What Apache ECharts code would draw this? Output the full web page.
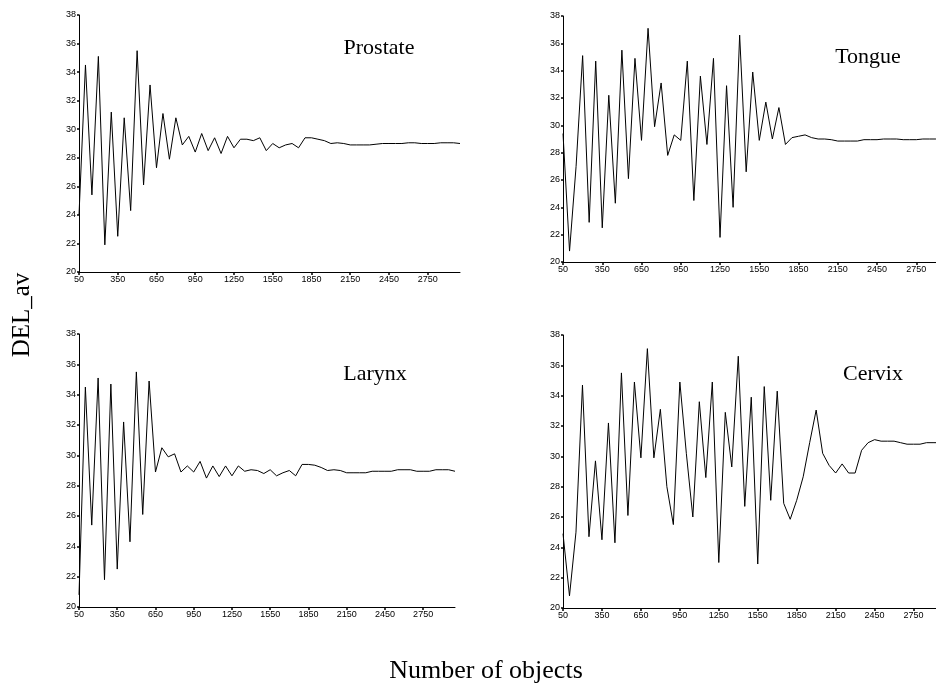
<!DOCTYPE html>
<html>
<head>
<meta charset="utf-8">
<title>DEL_av vs number of objects</title>
<script src="https://cdn.jsdelivr.net/npm/echarts@6/dist/echarts.min.js"></script>
<style>
  html, body { margin: 0; padding: 0; background: #fff; }
  #main { width: 936px; height: 688px; }
</style>
</head>
<body>
<div id="main"></div>
<script>
// number of objects (category labels, every 6th one is printed)
var objects = ['50','100','150','200','250','300','350','400','450','500',
    '550','600','650','700','750','800','850','900','950','1000',
    '1050','1100','1150','1200','1250','1300','1350','1400','1450','1500',
    '1550','1600','1650','1700','1750','1800','1850','1900','1950','2000',
    '2050','2100','2150','2200','2250','2300','2350','2400','2450','2500',
    '2550','2600','2650','2700','2750','2800','2850','2900','2950','3000'];

var prostate = [24.0, 34.5, 25.4, 35.1, 21.9, 31.2, 22.5, 30.8, 24.3, 35.5,
    26.1, 33.1, 27.3, 31.1, 27.9, 30.8, 28.9, 29.5, 28.4, 29.7,
    28.5, 29.4, 28.3, 29.5, 28.7, 29.3, 29.3, 29.2, 29.4, 28.5,
    29.0, 28.7, 28.9, 29.0, 28.7, 29.4, 29.4, 29.3, 29.2, 29.0,
    29.05, 29.0, 28.9, 28.9, 28.9, 28.9, 28.95, 29.0, 29.0, 29.0,
    29.0, 29.05, 29.05, 29.0, 29.0, 29.0, 29.05, 29.05, 29.05, 29.0];

var tongue = [29.4, 20.8, 27.0, 35.1, 22.9, 34.7, 22.5, 32.2, 24.3, 35.5,
    26.1, 34.9, 28.9, 37.1, 29.9, 33.1, 27.8, 29.3, 28.9, 34.7,
    24.5, 33.6, 28.6, 34.9, 21.8, 32.9, 24.0, 36.6, 26.6, 33.9,
    28.9, 31.7, 29.0, 31.3, 28.6, 29.1, 29.2, 29.3, 29.1, 29.0,
    29.0, 28.95, 28.85, 28.85, 28.85, 28.85, 28.95, 28.95, 28.95, 29.0,
    29.0, 29.0, 28.95, 28.95, 28.95, 29.0, 29.0, 29.0, 29.0, 29.0];

var larynx = [20.8, 34.5, 25.4, 35.1, 21.8, 34.7, 22.5, 32.2, 24.3, 35.5,
    26.1, 34.9, 28.9, 30.5, 29.9, 30.1, 28.9, 29.3, 28.9, 29.6,
    28.5, 29.3, 28.6, 29.3, 28.65, 29.3, 28.95, 29.05, 29.0, 28.8,
    29.05, 28.65, 28.85, 29.0, 28.65, 29.4, 29.4, 29.35, 29.2, 29.0,
    29.05, 29.0, 28.85, 28.85, 28.85, 28.85, 28.95, 28.95, 28.95, 28.95,
    29.05, 29.05, 29.05, 28.95, 28.95, 28.95, 29.05, 29.05, 29.05, 28.95];

var cervix = [24.9, 20.8, 25.0, 34.7, 24.7, 29.7, 24.5, 32.2, 24.3, 35.5,
    26.1, 34.9, 29.9, 37.1, 29.9, 33.1, 28.0, 25.5, 34.9, 30.2,
    26.0, 33.6, 28.6, 34.9, 23.0, 32.9, 29.3, 36.6, 26.7, 33.9,
    22.9, 34.6, 27.1, 34.3, 26.9, 25.85, 27.1, 28.65, 30.9, 33.05,
    30.2, 29.4, 28.9, 29.5, 28.9, 28.9, 30.4, 30.9, 31.1, 31.0,
    31.0, 31.0, 30.9, 30.8, 30.8, 30.8, 30.9, 30.9, 30.9, 30.9];

var panelNames = ['Prostate', 'Tongue', 'Larynx', 'Cervix'];

var myChart = echarts.init(document.getElementById('main'), null, {renderer: 'canvas'});

var grids = [
    {left: 79, top: 15, right: 476, bottom: 416},
    {left: 563, top: 16, right: -13, bottom: 426},
    {left: 79, top: 334, right: 481, bottom: 81},
    {left: 563, top: 335, right: -10, bottom: 80}
];
var seriesData = [prostate, tongue, larynx, cervix];
var titlePos = [[379, 48], [868, 57], [375, 374], [873, 374]];

var tickFont = {fontFamily: 'Liberation Sans', fontSize: 9, color: '#000'};

var option = {
    animation: false,
    backgroundColor: '#fff',
    grid: grids.map(function (g) {
        return Object.assign({containLabel: false, outerBoundsMode: 'none'}, g);
    }),
    xAxis: grids.map(function (g, i) {
        return {
            type: 'category',
            gridIndex: i,
            data: objects,
            boundaryGap: false,
            axisLine: {lineStyle: {color: '#000', width: 1}},
            axisTick: {show: true, interval: 5, length: 3, lineStyle: {color: '#000', width: 1.5}},
            axisLabel: Object.assign({interval: 5, margin: 3}, tickFont),
            splitLine: {show: false}
        };
    }),
    yAxis: grids.map(function (g, i) {
        return {
            type: 'value',
            gridIndex: i,
            min: 20,
            max: 38,
            interval: 2,
            axisLine: {show: true, lineStyle: {color: '#000', width: 1}},
            axisTick: {show: true, length: 2, lineStyle: {color: '#000', width: 1.5}},
            axisLabel: Object.assign({margin: 3}, tickFont),
            splitLine: {show: false}
        };
    }),
    series: seriesData.map(function (d, i) {
        return {
            name: panelNames[i],
            type: 'line',
            xAxisIndex: i,
            yAxisIndex: i,
            data: d,
            showSymbol: false,
            symbol: 'none',
            lineStyle: {color: '#000', width: 1},
            emphasis: {disabled: true}
        };
    }),
    graphic: titlePos.map(function (p, i) {
        return {
            type: 'text',
            x: p[0],
            y: p[1],
            style: {
                text: panelNames[i],
                fontFamily: 'Liberation Serif',
                fontSize: 22,
                fill: '#000',
                align: 'center',
                verticalAlign: 'middle'
            }
        };
    }).concat([
        {
            type: 'text',
            x: 22,
            y: 315,
            rotation: Math.PI / 2,
            style: {
                text: 'DEL_av',
                fontFamily: 'Liberation Serif',
                fontSize: 25,
                fill: '#000',
                align: 'center',
                verticalAlign: 'middle'
            }
        },
        {
            type: 'text',
            x: 486,
            y: 671,
            style: {
                text: 'Number of objects',
                fontFamily: 'Liberation Serif',
                fontSize: 26,
                fill: '#000',
                align: 'center',
                verticalAlign: 'middle'
            }
        }
    ])
};

myChart.setOption(option);
</script>
</body>
</html>
